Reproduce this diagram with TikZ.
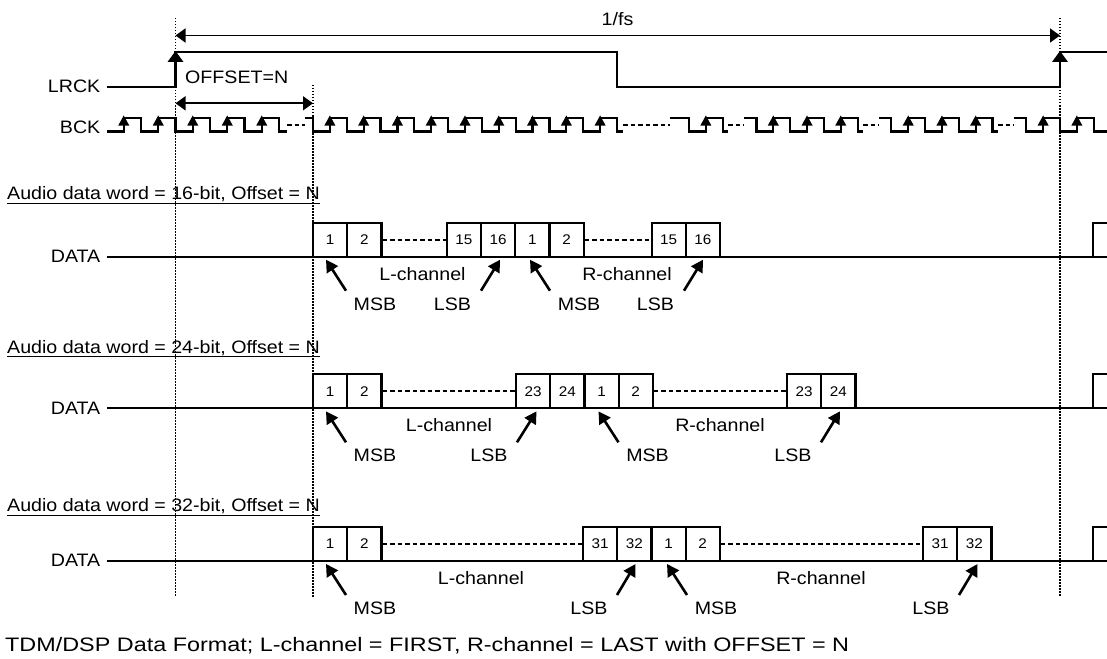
\documentclass[tikz,border=0pt]{standalone}
\usepackage{fontspec}
\setmainfont{Liberation Sans}[FakeStretch=1.09]
\usetikzlibrary{arrows.meta}
\begin{document}
\begin{tikzpicture}[x=1pt,y=-1pt,
  sig/.style={line width=2.2pt, line join=miter, line cap=butt},
  vdot/.style={line width=1.1pt, dash pattern=on 1.5pt off 1.5pt},
  gapdash/.style={line width=1.8pt, dash pattern=on 4.5pt off 3pt},
  bitbox/.style={draw, line width=2.2pt, minimum width=34.2pt, minimum height=34pt, inner sep=0pt, font=\fontsize{14}{16}\selectfont},
  lbl/.style={inner sep=0pt, font=\fontsize{18}{20}\selectfont},
  ptr/.style={line width=2.6pt, -{Triangle[width=13pt,length=12pt]}},
  dimarrow/.style={line width=1.6pt, {Triangle[width=14pt,length=10pt]}-{Triangle[width=14pt,length=10pt]}},
  uline/.style={line width=1.2pt}
]
\useasboundingbox (0,0) rectangle (1107,658);
\fill[white] (0,0) rectangle (1107,658);

% dotted reference lines
\coordinate (d1t) at (175.5,18);  \coordinate (d1b) at (175.5,597);
\coordinate (d2t) at (313,85);    \coordinate (d2b) at (313,597);
\coordinate (d3t) at (1060,18);   \coordinate (d3b) at (1060,597);
\draw[vdot] (d1t) -- (d1b);
\draw[vdot] (d2t) -- (d2b);
\draw[vdot] (d3t) -- (d3b);

% 1/fs
\coordinate (fsA) at (175.5,35.5); \coordinate (fsB) at (1060,35.5);
\draw[dimarrow] (fsA) -- (fsB);
\node[lbl, anchor=base] (fs) at (617.5,25.5) {1/fs};

% LRCK
\node[lbl, anchor=base east] (lrck) at (100.5,93) {LRCK};
\draw[sig] (107,87.3) -- (175.5,87.3) -- (175.5,52.3) -- (617,52.3) -- (617,87.3) -- (1060,87.3) -- (1060,52.3) -- (1107,52.3);
\fill (175.5,51) -- (167.5,62) -- (183.5,62) -- cycle;
\fill (1060,51) -- (1052,62) -- (1068,62) -- cycle;

% OFFSET
\node[lbl, anchor=base west] (off) at (185,83.5) {OFFSET=N};
\coordinate (offA) at (175.5,103.3); \coordinate (offB) at (313,103.3);
\draw[dimarrow] (offA) -- (offB);

% BCK
\node[lbl, anchor=base east] (bck) at (100.5,133.5) {BCK};
\draw[sig] (107,131.5) \foreach \r in {123.75,158.25,192.75,227.25,261.75} { -- (\r,131.5) -- (\r,118) -- ({\r+17.25},118) -- ({\r+17.25},131.5) } -- (287,131.5);
\draw[gapdash] (287,125) -- (305,125);
\draw[sig] (305,118) -- (313,118) -- (313,131.5) \foreach \r in {329.89,363.67,397.44,431.22,465.0,498.78,532.56,566.33,600.11} { -- (\r,131.5) -- (\r,118) -- ({\r+16.89},118) -- ({\r+16.89},131.5) } -- (623,131.5);
\draw[gapdash] (623,125) -- (670,125);
\draw[sig] (670,118) -- (689,118) -- (689,131.5) -- (705.86,131.5) -- (705.86,118) -- (722.73,118) -- (722.73,131.5) -- (728,131.5);
\draw[gapdash] (728,125) -- (744,125);
\draw[sig] (744,118) -- (756.45,118) -- (756.45,131.5) \foreach \r in {773.31,807.05,840.77} { -- (\r,131.5) -- (\r,118) -- ({\r+16.87},118) -- ({\r+16.87},131.5) } -- (863,131.5);
\draw[gapdash] (863,125) -- (879,125);
\draw[sig] (879,118) -- (891.36,118) -- (891.36,131.5) \foreach \r in {908.23,941.95,975.68} { -- (\r,131.5) -- (\r,118) -- ({\r+16.87},118) -- ({\r+16.87},131.5) } -- (998,131.5);
\draw[gapdash] (998,125) -- (1014,125);
\draw[sig] (1014,118) -- (1026.27,118) -- (1026.27,131.5) \foreach \r in {1043.14,1076.86} { -- (\r,131.5) -- (\r,118) -- ({\r+16.87},118) -- ({\r+16.87},131.5) } -- (1107,131.5);
\foreach \r in {123.75,158.25,192.75,227.25,261.75,329.89,363.67,397.44,431.22,465.0,498.78,532.56,566.33,600.11,705.86,773.31,807.05,840.77,908.23,941.95,975.68,1043.14,1076.86}
  \fill (\r,115.5) -- ({\r-5.5},125.5) -- ({\r+5.5},125.5) -- cycle;

% ===== 16-bit row =====
\node[lbl, anchor=base west] (t16) at (7,199.5) {Audio data word = 16-bit, Offset = N};
\draw[uline] ([yshift=-3.8pt]t16.base west) -- ([yshift=-3.8pt]t16.base east);
\node[lbl, anchor=base east] (data16) at (100.5,262.5) {DATA};
\draw[sig] (107,256.7) -- (1107,256.7);
\draw[sig] (1093,256.7) -- (1093,222.7) -- (1107,222.7);
\node[bitbox] (p1) at (330.1,239.7) {1};
\node[bitbox] (p2) at (364.3,239.7) {2};
\node[bitbox] (p15) at (463.9,239.7) {15};
\node[bitbox] (p16) at (498.1,239.7) {16};
\node[bitbox] (q1) at (532.3,239.7) {1};
\node[bitbox] (q2) at (566.5,239.7) {2};
\node[bitbox] (q15) at (668.7,239.7) {15};
\node[bitbox] (q16) at (702.9,239.7) {16};
\draw[gapdash] (p2.east) -- (p15.west);
\draw[gapdash] (q2.east) -- (q15.west);
\node[lbl, anchor=base] (lc16) at (422.5,280.2) {L-channel};
\node[lbl, anchor=base] (rc16) at (627,280.2) {R-channel};
\node[lbl, anchor=base] (m16a) at (375,310.2) {MSB};
\node[lbl, anchor=base] (l16a) at (452.5,310.2) {LSB};
\node[lbl, anchor=base] (m16b) at (579,310.2) {MSB};
\node[lbl, anchor=base] (l16b) at (655.5,310.2) {LSB};
\draw[ptr] (346,290.7) -- (326,259.7);
\draw[ptr] (481,290.7) -- (500,259.7);
\draw[ptr] (550,290.7) -- (530,259.7);
\draw[ptr] (684,290.7) -- (703,259.7);

% ===== 24-bit row =====
\node[lbl, anchor=base west] (t24) at (7,353) {Audio data word = 24-bit, Offset = N};
\draw[uline] ([yshift=-3.8pt]t24.base west) -- ([yshift=-3.8pt]t24.base east);
\node[lbl, anchor=base east] (data24) at (100.5,414.1) {DATA};
\draw[sig] (107,408.3) -- (1107,408.3);
\draw[sig] (1093,408.3) -- (1093,374.3) -- (1107,374.3);
\node[bitbox] (r1) at (330.1,391.3) {1};
\node[bitbox] (r2) at (364.3,391.3) {2};
\node[bitbox] (r23) at (533.1,391.3) {23};
\node[bitbox] (r24) at (567.3,391.3) {24};
\node[bitbox] (s1) at (601.5,391.3) {1};
\node[bitbox] (s2) at (635.7,391.3) {2};
\node[bitbox] (s23) at (804.1,391.3) {23};
\node[bitbox] (s24) at (838.3,391.3) {24};
\draw[gapdash] (r2.east) -- (r23.west);
\draw[gapdash] (s2.east) -- (s23.west);
\node[lbl, anchor=base] (lc24) at (449,431.8) {L-channel};
\node[lbl, anchor=base] (rc24) at (720,431.8) {R-channel};
\node[lbl, anchor=base] (m24a) at (375,461.8) {MSB};
\node[lbl, anchor=base] (l24a) at (489,461.8) {LSB};
\node[lbl, anchor=base] (m24b) at (647.5,461.8) {MSB};
\node[lbl, anchor=base] (l24b) at (793,461.8) {LSB};
\draw[ptr] (346,442.3) -- (326,411.3);
\draw[ptr] (517,442.3) -- (536.5,411.3);
\draw[ptr] (618.5,442.3) -- (598.5,411.3);
\draw[ptr] (821,442.3) -- (840,411.3);

% ===== 32-bit row =====
\node[lbl, anchor=base west] (t32) at (7,511.3) {Audio data word = 32-bit, Offset = N};
\draw[uline] ([yshift=-3.8pt]t32.base west) -- ([yshift=-3.8pt]t32.base east);
\node[lbl, anchor=base east] (data32) at (100.5,566.8) {DATA};
\draw[sig] (107,561) -- (1107,561);
\draw[sig] (1093,561) -- (1093,527) -- (1107,527);
\node[bitbox] (u1) at (330.1,544) {1};
\node[bitbox] (u2) at (364.3,544) {2};
\node[bitbox] (u31) at (600.1,544) {31};
\node[bitbox] (u32) at (634.3,544) {32};
\node[bitbox] (v1) at (668.5,544) {1};
\node[bitbox] (v2) at (702.7,544) {2};
\node[bitbox] (v31) at (940.1,544) {31};
\node[bitbox] (v32) at (974.3,544) {32};
\draw[gapdash] (u2.east) -- (u31.west);
\draw[gapdash] (v2.east) -- (v31.west);
\node[lbl, anchor=base] (lc32) at (481,584.5) {L-channel};
\node[lbl, anchor=base] (rc32) at (821,584.5) {R-channel};
\node[lbl, anchor=base] (m32a) at (375,614.5) {MSB};
\node[lbl, anchor=base] (l32a) at (589,614.5) {LSB};
\node[lbl, anchor=base] (m32b) at (716,614.5) {MSB};
\node[lbl, anchor=base] (l32b) at (931,614.5) {LSB};
\draw[ptr] (346,595) -- (326,564);
\draw[ptr] (617,595) -- (635.5,564);
\draw[ptr] (687,595) -- (667,564);
\draw[ptr] (959,595) -- (977.5,564);

% caption
\node[inner sep=0pt, anchor=base west] (cap) at (5,651) {\scalebox{1.1}[1]{\fontsize{19.5}{23}\selectfont TDM/DSP Data Format; L-channel = FIRST, R-channel = LAST with OFFSET = N}};
\end{tikzpicture}
\end{document}
